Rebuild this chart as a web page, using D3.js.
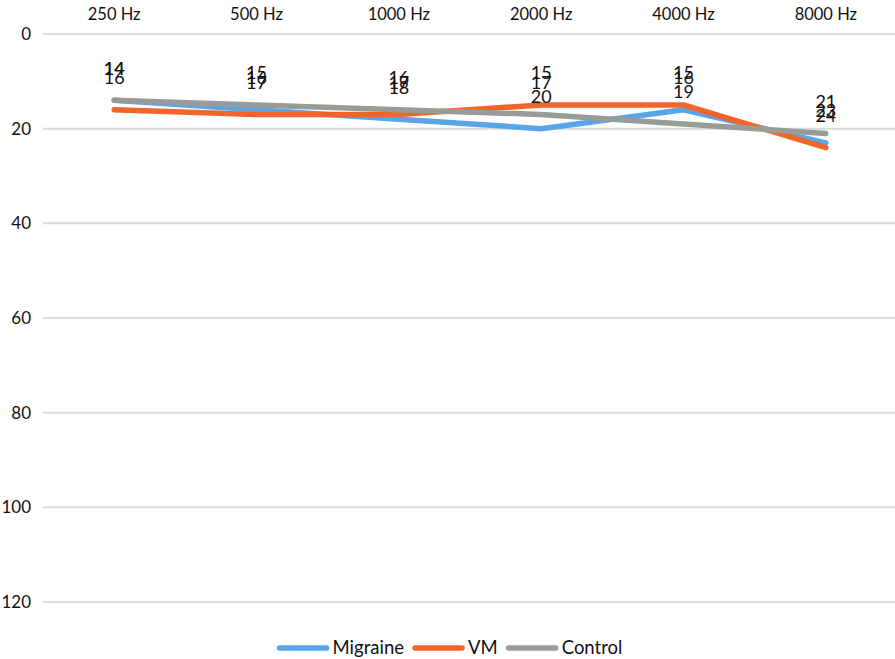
<!DOCTYPE html>
<html>
<head>
<meta charset="utf-8">
<script src="https://cdn.jsdelivr.net/npm/d3@7"></script>
<style>
  body { margin: 0; background: #fff; }
  text { font-family: Lato, "Open Sans", sans-serif; fill: #111; }
</style>
</head>
<body>
<div id="chart"></div>
<script>
// frequencies along the top
var freqs = ["250 Hz", "500 Hz", "1000 Hz", "2000 Hz", "4000 Hz", "8000 Hz"];
var yTicks = [0, 20, 40, 60, 80, 100, 120];

// hearing thresholds per group
var migraine = [14, 16, 18, 20, 16, 23];
var vm = [16, 17, 17, 15, 15, 24];
var control = [14, 15, 16, 17, 19, 21];

var seriesNames = ["Migraine", "VM", "Control"];
var seriesColors = ["#5aa5e8", "#f2652a", "#989c97"];

var width = 895, height = 659;
var margin = {top: 34, right: 0, bottom: 57, left: 43};

var svg = d3.select("#chart").append("svg")
    .attr("width", width)
    .attr("height", height);

var x = d3.scaleBand()
    .domain(freqs)
    .range([margin.left, 897]);

var y = d3.scaleLinear()
    .domain([0, 120])
    .range([margin.top, height - margin.bottom]);

//grid lines
svg.selectAll(".grid")
    .data(yTicks)
    .enter()
    .append("line")
    .attr("x1", margin.left)
    .attr("x2", width)
    .attr("y1", d => y(d))
    .attr("y2", d => y(d))
    .attr("stroke", "#d6dcdc")
    .attr("stroke-width", 2);

svg.selectAll(".ylab")
    .data(yTicks)
    .enter()
    .append("text")
    .attr("x", 31)
    .attr("y", d => y(d))
    .attr("dy", "0.35em")
    .attr("text-anchor", "end")
    .style("font-size", "17px")
    .text(d => d);

svg.selectAll(".xlab")
    .data(freqs)
    .enter()
    .append("text")
    .attr("x", d => x(d) + x.bandwidth() / 2)
    .attr("y", 14)
    .attr("dy", "0.35em")
    .attr("text-anchor", "middle")
    .style("font-size", "16.5px")
    .text(d => d);

var series = [migraine, vm, control];

var line = d3.line()
    .x((d, i) => x(freqs[i]) + x.bandwidth() / 2)
    .y(d => y(d));

series.forEach(function(vals, k) {
    svg.append("path")
        .datum(vals)
        .attr("d", line)
        .attr("fill", "none")
        .attr("stroke", seriesColors[k])
        .attr("stroke-width", 5.5)
        .attr("stroke-linejoin", "round")
        .attr("stroke-linecap", "round");
});

// data labels, above each point
series.forEach(function(vals) {
    svg.selectAll(null)
        .data(vals)
        .enter()
        .append("text")
        .attr("x", (d, i) => x(freqs[i]) + x.bandwidth() / 2)
        .attr("y", d => y(d) - 32)
        .attr("dy", "0.35em")
        .attr("text-anchor", "middle")
        .style("font-size", "18px")
        .text(d => d);
});

// legend, laid out one after the other then centred
var legend = svg.append("g");
var cursor = 0;
seriesNames.forEach(function(name, i) {
    var item = legend.append("g").attr("transform", "translate(" + cursor + ",0)");
    item.append("line")
        .attr("x1", 2)
        .attr("x2", 49)
        .attr("stroke", seriesColors[i])
        .attr("stroke-width", 5.5)
        .attr("stroke-linecap", "round");
    var t = item.append("text")
        .attr("x", 55)
        .attr("dy", "0.35em")
        .style("font-size", "18.5px")
        .text(name);
    cursor += 55 + t.node().getComputedTextLength() + 9;
});
var legendW = cursor - 9;
legend.attr("transform", "translate(" + (450 - legendW / 2) + ",648)");
</script>
</body>
</html>
